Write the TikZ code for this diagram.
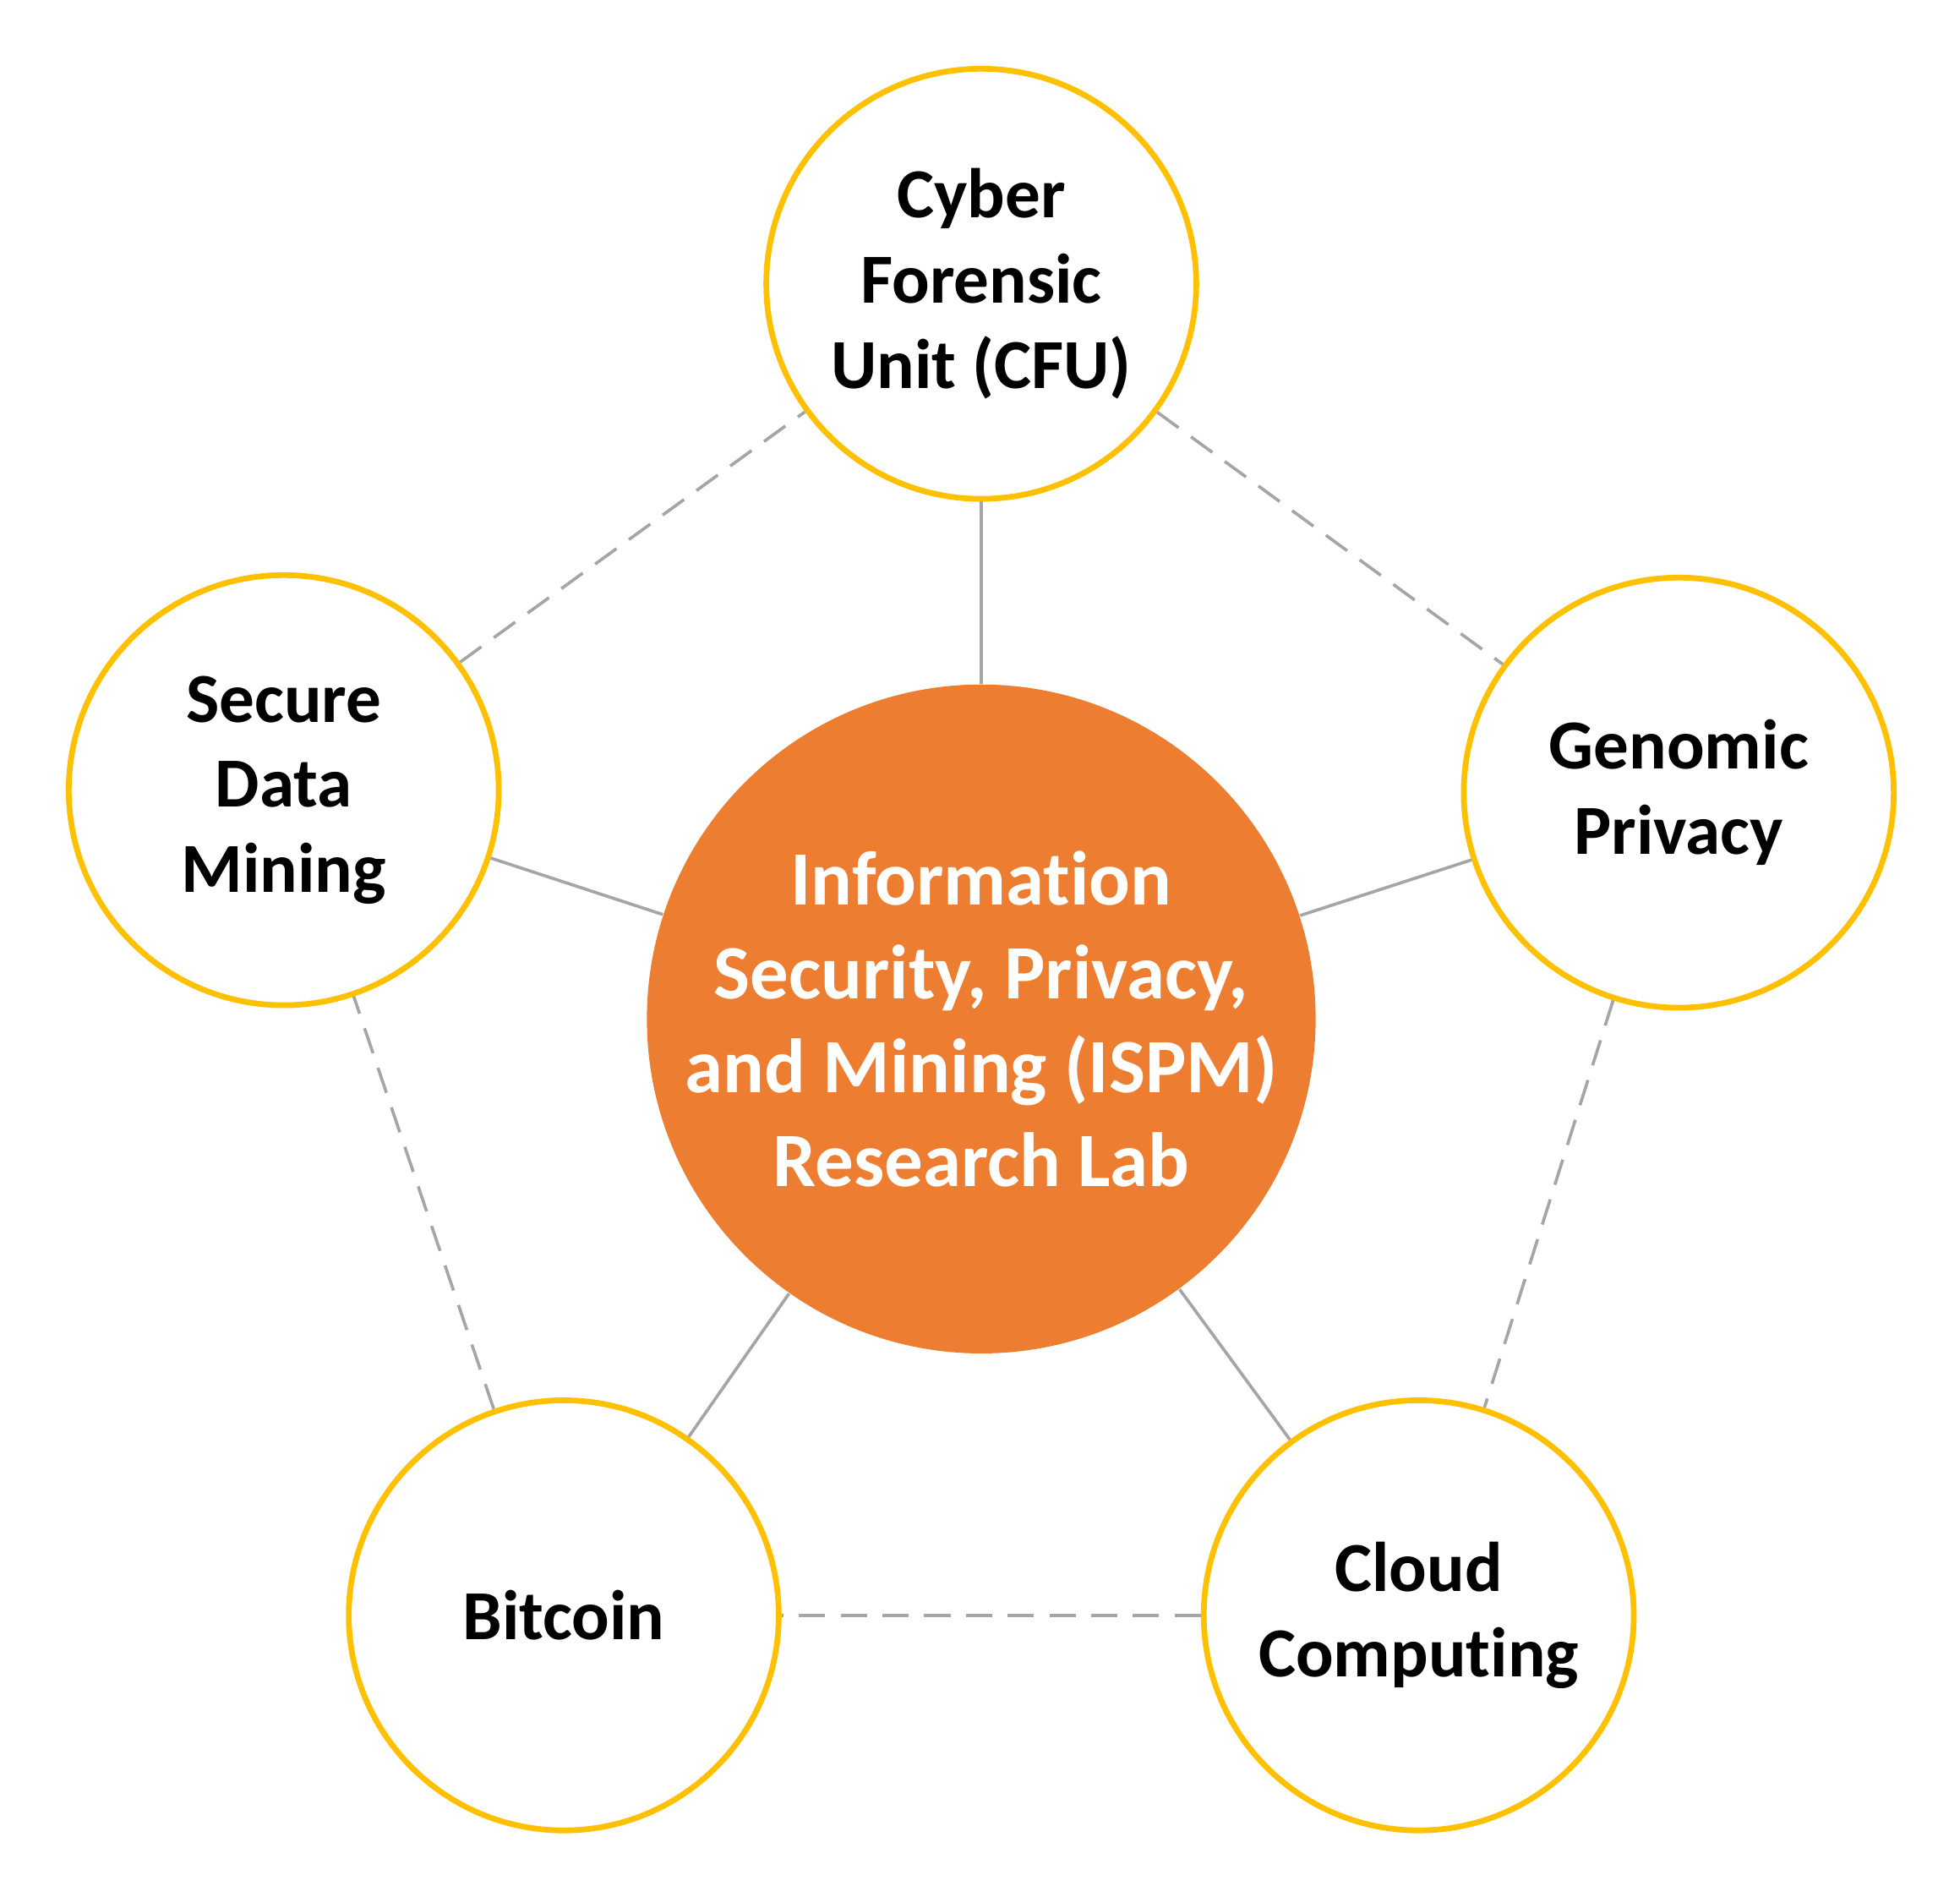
\documentclass[tikz,border=0pt]{standalone}
\usepackage{fontspec}
\setmainfont{Carlito}[Ligatures=NoCommon]
\usepackage{xcolor}
\usepackage{tikz}
\usetikzlibrary{positioning,calc}

\definecolor{labOrange}{HTML}{ED7D31}
\definecolor{ringGold}{HTML}{FFC000}
\definecolor{lineGray}{HTML}{A5A5A5}

\begin{document}
\begin{tikzpicture}[
    lab/.style={circle, fill=labOrange, minimum size=5.35cm, inner sep=-0.4cm, align=center,
        text=white, font=\fontsize{17.5}{21.3}\selectfont\bfseries},
    topic/.style={circle, draw=ringGold, line width=1.3pt, fill=white, minimum size=3.44cm,
        inner sep=0pt, align=center, font=\fontsize{16}{19.4}\selectfont\bfseries},
    spoke/.style={draw=lineGray, line width=0.7pt},
    rim/.style={draw=lineGray, line width=0.7pt, dash pattern=on 6pt off 3.5pt}
]
    \useasboundingbox (0,0) rectangle (15.68,15.17);

    % Center lab
    \node[lab] (ispm) at (7.85,7.02) {Information\\Security, Privacy,\\and Mining (ISPM)\\Research Lab};

    % Outer topics
    \node[topic] (cfu) at (7.85,12.90) {Cyber\\Forensic\\Unit (CFU)};
    \node[topic] (sdm) at (2.27,8.85) {Secure\\Data\\Mining};
    \node[topic] (gen) at (13.43,8.83) {Genomic\\Privacy};
    \node[topic] (btc) at (4.51,2.25) {Bitcoin};
    \node[topic] (cloud) at (11.35,2.25) {Cloud\\Computing};

    % Spokes to the lab
    \draw[spoke] (cfu) -- (ispm);
    \draw[spoke] (sdm) -- (ispm);
    \draw[spoke] (gen) -- (ispm);
    \draw[spoke] (btc) -- (ispm);
    \draw[spoke] (cloud) -- (ispm);

    % Dashed rim
    \draw[rim] (cfu) -- (gen);
    \draw[rim] (gen) -- (cloud);
    \draw[rim] (cloud) -- (btc);
    \draw[rim] (btc) -- (sdm);
    \draw[rim] (sdm) -- (cfu);

\end{tikzpicture}
\end{document}
